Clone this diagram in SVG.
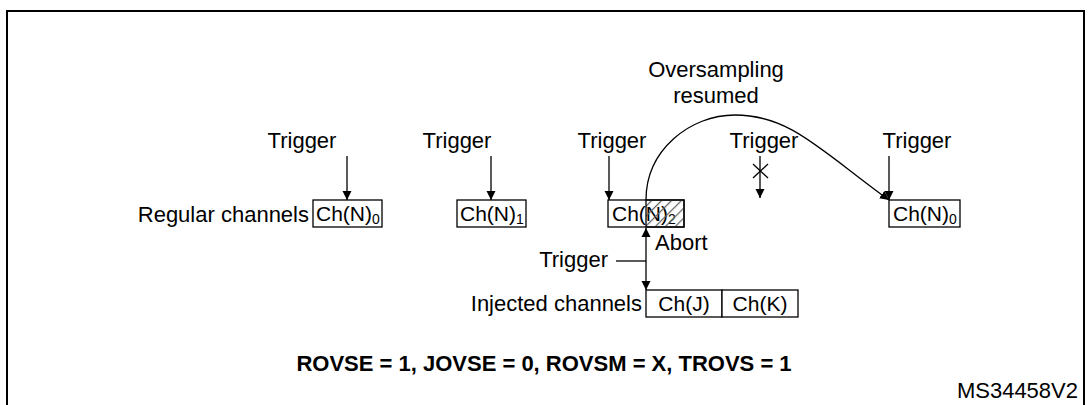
<svg xmlns="http://www.w3.org/2000/svg" width="1089" height="405" viewBox="0 0 1089 405">
<defs>
<marker id="ah" viewBox="0 0 10 10" refX="10" refY="5" markerWidth="9" markerHeight="11" orient="auto-start-reverse" markerUnits="userSpaceOnUse"><path d="M0,0 L10,5 L0,10 z" fill="#000"/></marker>
<pattern id="hatch" width="7" height="7" patternUnits="userSpaceOnUse" patternTransform="rotate(45)"><line x1="0" y1="0" x2="0" y2="7" stroke="#666" stroke-width="2.5"/></pattern>
</defs>
<style>
text{font-family:"Liberation Sans",Arial,sans-serif;font-size:22px;fill:#000}
.c{font-size:21px}
.b{fill:#fff;stroke:#000;stroke-width:1.3}
.l{stroke:#000;stroke-width:1.3;fill:none}
</style>
<rect x="0" y="0" width="1089" height="405" fill="#fff"/>
<rect x="7" y="11" width="1077" height="400" fill="none" stroke="#000" stroke-width="2"/>
<g id="labels">
<text x="716" y="77" text-anchor="middle">Oversampling</text>
<text x="716" y="103" text-anchor="middle">resumed</text>
<text x="302" y="148" text-anchor="middle">Trigger</text>
<text x="457" y="148" text-anchor="middle">Trigger</text>
<text x="612" y="148" text-anchor="middle">Trigger</text>
<text x="764" y="148" text-anchor="middle">Trigger</text>
<text x="917" y="148" text-anchor="middle">Trigger</text>
<text x="309" y="222" text-anchor="end">Regular channels</text>
<text x="608" y="267" text-anchor="end">Trigger</text>
<text x="655" y="250">Abort</text>
<text x="642" y="311" text-anchor="end">Injected channels</text>
<text x="544" y="371" text-anchor="middle" font-weight="bold">ROVSE = 1, JOVSE = 0, ROVSM = X, TROVS = 1</text>
<text x="1078" y="398" text-anchor="end" font-size="14">MS34458V2</text>
</g>
<g id="n0"><rect class="b" x="313" y="200" width="69" height="27"/><text class="c" x="316" y="221">Ch(N)<tspan font-size="14" dy="3">0</tspan></text></g>
<g id="n1"><rect class="b" x="457" y="200" width="69" height="27"/><text class="c" x="460" y="221">Ch(N)<tspan font-size="14" dy="3">1</tspan></text></g>
<g id="n2"><rect class="b" x="608" y="200" width="76" height="27"/><text class="c" x="612" y="221">Ch(N)<tspan font-size="14" dy="3">2</tspan></text><rect x="646" y="200" width="38" height="27" fill="url(#hatch)" stroke="#000" stroke-width="1.3"/></g>
<g id="n3"><rect class="b" x="889" y="200" width="71" height="27"/><text class="c" x="893" y="221">Ch(N)<tspan font-size="14" dy="3">0</tspan></text></g>
<g id="inj"><rect class="b" x="646" y="290" width="76" height="27"/><rect class="b" x="722" y="290" width="76" height="27"/><text class="c" x="684" y="311" text-anchor="middle">Ch(J)</text><text class="c" x="760" y="311" text-anchor="middle">Ch(K)</text></g>
<g id="connectors">
<line class="l" x1="347" y1="156" x2="347" y2="200" marker-end="url(#ah)"/>
<line class="l" x1="491" y1="156" x2="491" y2="200" marker-end="url(#ah)"/>
<line class="l" x1="609" y1="156" x2="609" y2="200" marker-end="url(#ah)"/>
<line class="l" x1="889" y1="156" x2="889" y2="200" marker-end="url(#ah)"/>
<line class="l" x1="760" y1="156" x2="760" y2="198" marker-end="url(#ah)"/>
<line class="l" x1="753" y1="164" x2="768" y2="178"/>
<line class="l" x1="768" y1="164" x2="753" y2="178"/>
<path class="l" d="M646,200 C646,150 690,115 735,115 C790,115 820,150 889,200" marker-end="url(#ah)"/>
<line class="l" x1="646" y1="228" x2="646" y2="290" marker-start="url(#ah)" marker-end="url(#ah)"/>
<line class="l" x1="616" y1="261" x2="646" y2="261"/>
</g>
</svg>
